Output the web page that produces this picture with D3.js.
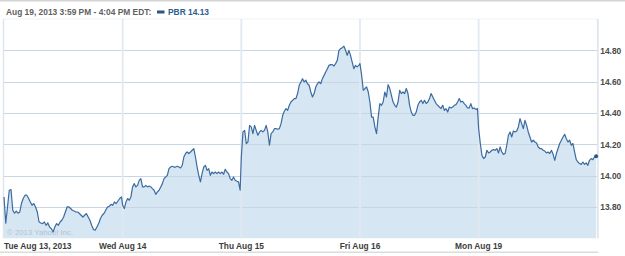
<!DOCTYPE html>
<html>
<head>
<meta charset="utf-8">
<script src="https://cdn.jsdelivr.net/npm/d3@7"></script>
<style>
  html, body { margin: 0; padding: 0; background: #fff; }
  svg { display: block; }
  text { font-family: "Liberation Sans", Arial, sans-serif; }
</style>
</head>
<body>
<svg id="chart" width="625" height="256"></svg>
<script>
// ---- data ----
const headerText = "Aug 19, 2013 3:59 PM - 4:04 PM EDT:";
const seriesName = "PBR 14.13";
const dayLabels = ["Tue Aug 13, 2013", "Wed Aug 14", "Thu Aug 15", "Fri Aug 16", "Mon Aug 19"];
const yTicks = [13.80, 14.00, 14.20, 14.40, 14.60, 14.80];
const copyright = "\u00a9 2013 Yahoo! Inc.";

const tue = [13.864, 13.696, 13.800, 13.907, 13.911, 13.779, 13.760, 13.774, 13.760, 13.768,
  13.824, 13.856, 13.875, 13.875, 13.856, 13.832, 13.811, 13.822, 13.800, 13.768,
  13.704, 13.698, 13.694, 13.704, 13.683, 13.698, 13.672, 13.662, 13.640, 13.672,
  13.694, 13.683, 13.704, 13.715, 13.736, 13.768, 13.800, 13.800, 13.790, 13.779,
  13.774, 13.768, 13.768, 13.758, 13.747, 13.736, 13.747, 13.758, 13.736, 13.715,
  13.683, 13.656, 13.651, 13.672, 13.694, 13.726, 13.747, 13.758, 13.779, 13.800,
  13.804, 13.817, 13.811, 13.832, 13.822, 13.838, 13.854, 13.864];
const wed = [13.811, 13.790, 13.832, 13.854, 13.843, 13.864, 13.928, 13.949, 13.928, 13.938,
  13.970, 13.981, 13.928, 13.928, 13.938, 13.928, 13.934, 13.928, 13.917, 13.907,
  13.881, 13.896, 13.907, 13.928, 13.949, 13.981, 13.991, 14.002, 14.045, 14.055,
  14.060, 14.055, 14.055, 14.060, 14.055, 14.049, 14.066, 14.119, 14.141, 14.151,
  14.141, 14.151, 14.162, 14.173, 14.119, 14.055, 14.002, 13.960, 14.013, 14.055,
  14.066, 14.034, 14.045, 14.002, 14.023, 14.013, 14.023, 14.013, 14.023, 14.013,
  14.023, 14.009, 14.041, 14.023, 14.013, 13.981, 13.970, 13.991, 13.970, 13.964,
  13.960, 13.907];
const thu = [14.119, 14.279, 14.289, 14.205, 14.215, 14.321, 14.311, 14.268, 14.321, 14.289,
  14.258, 14.279, 14.289, 14.279, 14.289, 14.321, 14.279, 14.194, 14.268, 14.279,
  14.300, 14.300, 14.296, 14.300, 14.332, 14.385, 14.411, 14.428, 14.417, 14.449,
  14.470, 14.481, 14.492, 14.492, 14.524, 14.577, 14.598, 14.619, 14.598, 14.609,
  14.587, 14.577, 14.534, 14.502, 14.524, 14.566, 14.587, 14.598, 14.587, 14.619,
  14.640, 14.662, 14.683, 14.704, 14.709, 14.709, 14.700, 14.715, 14.736, 14.800,
  14.811, 14.817, 14.826, 14.800, 14.768, 14.800, 14.768, 14.725, 14.683, 14.704,
  14.694, 14.704];
const fri = [14.715, 14.640, 14.545, 14.556, 14.566, 14.534, 14.470, 14.374, 14.374, 14.311,
  14.268, 14.374, 14.460, 14.449, 14.470, 14.534, 14.502, 14.581, 14.556, 14.513,
  14.470, 14.449, 14.438, 14.470, 14.545, 14.524, 14.534, 14.524, 14.556, 14.524,
  14.449, 14.406, 14.385, 14.385, 14.406, 14.449, 14.470, 14.481, 14.460, 14.481,
  14.460, 14.470, 14.492, 14.524, 14.502, 14.481, 14.460, 14.449, 14.438, 14.428,
  14.449, 14.417, 14.428, 14.406, 14.438, 14.432, 14.438, 14.449, 14.453, 14.470,
  14.492, 14.470, 14.475, 14.460, 14.449, 14.432, 14.432, 14.460, 14.428, 14.432,
  14.423, 14.428];
const mon = [14.300, 14.205, 14.130, 14.109, 14.119, 14.162, 14.145, 14.151, 14.162, 14.166,
  14.162, 14.173, 14.145, 14.183, 14.151, 14.136, 14.141, 14.194, 14.258, 14.279,
  14.247, 14.285, 14.279, 14.285, 14.311, 14.364, 14.332, 14.300, 14.353, 14.321,
  14.279, 14.247, 14.215, 14.226, 14.215, 14.208, 14.183, 14.173, 14.173, 14.162,
  14.157, 14.145, 14.151, 14.141, 14.162, 14.136, 14.098, 14.141, 14.173, 14.205,
  14.226, 14.247, 14.264, 14.236, 14.215, 14.226, 14.194, 14.205, 14.151, 14.102,
  14.087, 14.077, 14.072, 14.087, 14.072, 14.081, 14.066, 14.098, 14.109, 14.102,
  14.119, 14.124];

const sessions = [tue, wed, thu, fri, mon];

// ---- layout ----
const W = 625, H = 256;
const plot = { left: 4, right: 597.3, top: 19, bottom: 238.3 };

const svg = d3.select("#chart");

const x = d3.scaleLinear().domain([0, sessions.length]).range([plot.left, plot.right]);
const y = d3.scaleLinear().domain([13.6, 15.0]).range([plot.bottom, plot.top]);

const points = [];
sessions.forEach((arr, d) => {
  arr.forEach((v, i) => points.push({ t: d + (i / (arr.length - 1)) * 0.99, v }));
});

// top border
svg.append("rect").attr("x", 0).attr("y", 0).attr("width", W).attr("height", 1.5).attr("fill", "#d4d4d4");

// header
const header = svg.append("g");
header.append("text").attr("x", 6).attr("y", 15)
  .attr("font-size", 8.4).attr("font-weight", "bold").attr("fill", "#5f5f5f")
  .text(headerText);
header.append("rect").attr("x", 157).attr("y", 10.5).attr("width", 7.5).attr("height", 3)
  .attr("fill", "#2a5688");
header.append("text").attr("x", 168).attr("y", 15)
  .attr("font-size", 8.4).attr("font-weight", "bold").attr("fill", "#2c5d93")
  .text(seriesName);

// plot top line
svg.append("line").attr("x1", plot.left).attr("x2", plot.right)
  .attr("y1", plot.top).attr("y2", plot.top).attr("stroke", "#eef2f6").attr("stroke-width", 1);

// area fill
const area = d3.area().x(d => x(d.t)).y0(plot.bottom).y1(d => y(d.v));
svg.append("path").datum(points).attr("d", area).attr("fill", "#d6e6f2");

// horizontal grid
svg.append("g").selectAll("line").data(yTicks).join("line")
  .attr("x1", plot.left).attr("x2", plot.right)
  .attr("y1", d => Math.round(y(d)) + 0.5).attr("y2", d => Math.round(y(d)) + 0.5)
  .attr("stroke", "#c8d6e3").attr("stroke-width", 1.2);

// vertical grid (day boundaries) + edges
const vgrid = d3.range(1, sessions.length);
svg.append("g").selectAll("line").data(vgrid).join("line")
  .attr("x1", d => x(d)).attr("x2", d => x(d))
  .attr("y1", plot.top).attr("y2", plot.bottom)
  .attr("stroke", "#e1e9f1").attr("stroke-width", 1.8);
svg.append("line").attr("x1", plot.left - 0.5).attr("x2", plot.left - 0.5)
  .attr("y1", plot.top).attr("y2", plot.bottom).attr("stroke", "#dde5ed").attr("stroke-width", 1.5);
svg.append("line").attr("x1", plot.right + 0.5).attr("x2", plot.right + 0.5)
  .attr("y1", plot.top).attr("y2", plot.bottom).attr("stroke", "#dde5ed").attr("stroke-width", 1.8);

// copyright
svg.append("text").attr("x", 7).attr("y", 235)
  .attr("font-size", 7.8).attr("fill", "#b3c3d2")
  .text(copyright);

// price line
const line = d3.line().x(d => x(d.t)).y(d => y(d.v));
svg.append("path").datum(points).attr("d", line)
  .attr("fill", "none").attr("stroke", "#3b6b9f").attr("stroke-width", 1.2)
  .attr("stroke-linejoin", "round");

// end marker
const last = points[points.length - 1];
svg.append("circle").attr("cx", x(last.t)).attr("cy", y(last.v)).attr("r", 2)
  .attr("fill", "#2a5688");

// right axis
const yAxis = d3.axisRight(y).tickValues(yTicks).tickSize(0).tickPadding(0)
  .tickFormat(d3.format(".2f"));
const ya = svg.append("g").attr("transform", `translate(${plot.right + 3},0)`).call(yAxis);
ya.select(".domain").remove();
ya.selectAll("text").attr("font-size", 8.4).attr("font-weight", "bold").attr("fill", "#4a4a4a")
  .attr("font-family", "'Liberation Sans', Arial, sans-serif");

// bottom axis labels
const xa = svg.append("g");
xa.selectAll("text").data(dayLabels).join("text")
  .attr("x", (d, i) => i === 0 ? plot.left : x(i))
  .attr("y", 249.3)
  .attr("text-anchor", (d, i) => i === 0 ? "start" : "middle")
  .attr("font-size", 8.4).attr("font-weight", "bold").attr("fill", "#3d3d3d")
  .text(d => d);

// bottom rule
svg.append("rect").attr("x", 0).attr("y", 251.5).attr("width", plot.right + 1).attr("height", 1.5)
  .attr("fill", "#dcdcdc");
</script>
</body>
</html>
